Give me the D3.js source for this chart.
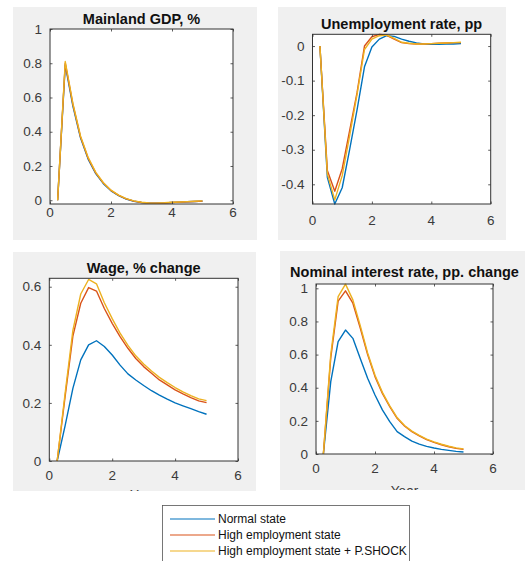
<!DOCTYPE html>
<html><head><meta charset="utf-8">
<script src="https://cdn.jsdelivr.net/npm/d3@7"></script>
<style>
body{margin:0;background:#fff;}
svg{display:block;}
text{font-family:"Liberation Sans",Arial,Helvetica,sans-serif;}
</style>
</head><body>
<svg id="chart" width="525" height="561"></svg>
<script>
// ---------- data ----------
const years = [0.25,0.5,0.75,1.0,1.25,1.5,1.75,2.0,2.25,2.5,2.75,3.0,3.25,3.5,3.75,4.0,4.25,4.5,4.75,5.0];

const seriesNames = ["Normal state","High employment state","High employment state + P.SHOCK"];
const seriesColors = ["#0072BD","#D95319","#EDB120"];

const gdpNormal = [0,0.79,0.55,0.365,0.24,0.155,0.097,0.055,0.027,0.007,-0.006,-0.013,-0.017,-0.018,-0.016,-0.013,-0.011,-0.009,-0.007,-0.005];
const gdpHigh   = [0,0.80,0.56,0.37,0.245,0.16,0.10,0.057,0.028,0.008,-0.005,-0.013,-0.017,-0.018,-0.016,-0.013,-0.011,-0.009,-0.007,-0.005];
const gdpShock  = [0,0.81,0.565,0.375,0.25,0.163,0.102,0.059,0.03,0.009,-0.004,-0.012,-0.016,-0.017,-0.015,-0.012,-0.010,-0.008,-0.006,-0.004];

const unempNormal = [0,-0.38,-0.457,-0.41,-0.30,-0.185,-0.06,-0.003,0.02,0.03,0.028,0.02,0.014,0.009,0.006,0.005,0.005,0.006,0.006,0.007];
const unempHigh   = [0,-0.36,-0.42,-0.355,-0.245,-0.135,0.0,0.027,0.034,0.031,0.02,0.01,0.007,0.006,0.006,0.007,0.008,0.009,0.01,0.01];
const unempShock  = [0,-0.37,-0.445,-0.375,-0.26,-0.14,-0.01,0.02,0.03,0.032,0.022,0.011,0.008,0.006,0.006,0.007,0.008,0.009,0.01,0.011];

const wageNormal = [0,0.12,0.25,0.348,0.40,0.414,0.394,0.365,0.33,0.30,0.279,0.26,0.242,0.227,0.213,0.20,0.19,0.18,0.17,0.161];
const wageHigh   = [0,0.22,0.43,0.543,0.597,0.585,0.525,0.474,0.428,0.388,0.353,0.325,0.302,0.279,0.262,0.245,0.231,0.218,0.207,0.201];
const wageShock  = [0,0.23,0.45,0.575,0.625,0.61,0.545,0.49,0.44,0.398,0.362,0.334,0.31,0.288,0.27,0.253,0.238,0.225,0.214,0.208];

const rateNormal = [0,0.437,0.678,0.748,0.698,0.577,0.457,0.356,0.266,0.195,0.135,0.105,0.078,0.06,0.046,0.036,0.028,0.022,0.016,0.012];
const rateHigh   = [0,0.58,0.923,0.985,0.91,0.76,0.60,0.467,0.366,0.286,0.215,0.169,0.135,0.109,0.087,0.07,0.056,0.044,0.034,0.028];
const rateShock  = [0,0.60,0.95,1.025,0.93,0.775,0.61,0.475,0.372,0.29,0.22,0.172,0.138,0.112,0.09,0.073,0.059,0.047,0.037,0.031];

const xTicks = [0,2,4,6];
const gdpTicks = [0,0.2,0.4,0.6,0.8,1];
const unempTicks = [-0.4,-0.3,-0.2,-0.1,0];
const wageTicks = [0,0.2,0.4,0.6];
const rateTicks = [0,0.2,0.4,0.6,0.8,1];

const titles = ["Mainland GDP, %","Unemployment rate, pp","Wage, % change","Nominal interest rate, pp. change"];
const xLabel = "Year";

// ---------- layout ----------
const panels = [
  {title:titles[0], series:[gdpNormal,gdpHigh,gdpShock], ticks:gdpTicks, dom:[-0.022,1],
   bg:[13,7,244,233], l:50, r:233, t:29, b:204, titleY:19, xTickY:212.5, xlab:null},
  {title:titles[1], series:[unempNormal,unempHigh,unempShock], ticks:unempTicks, dom:[-0.457,0.034],
   bg:[278,7,228,233], l:312.5, r:490.7, t:34.3, b:204, titleY:24, xTickY:220, xlab:null},
  {title:titles[2], series:[wageNormal,wageHigh,wageShock], ticks:wageTicks, dom:[0,0.629],
   bg:[13,252,243,239], l:49.3, r:238, t:278.3, b:461, titleY:268, xTickY:475.5, xlab:494},
  {title:titles[3], series:[rateNormal,rateHigh,rateShock], ticks:rateTicks, dom:[0,1.026],
   bg:[280,251,245,239], l:316, r:493, t:284, b:454, titleY:272, xTickY:468, xlab:490.5}
];

const svg = d3.select("#chart");
const defs = svg.append("defs");
const tickLen = 2.5;
const axisColor = "#333333";
const textColor = "#3a3a3a";

panels.forEach((p,i) => {
  const clipId = "clip"+i;
  defs.append("clipPath").attr("id",clipId).append("rect")
    .attr("x",p.bg[0]).attr("y",p.bg[1]).attr("width",p.bg[2]).attr("height",p.bg[3]);
  const g = svg.append("g").attr("clip-path",`url(#${clipId})`);
  g.append("rect").attr("x",p.bg[0]).attr("y",p.bg[1]).attr("width",p.bg[2]).attr("height",p.bg[3]).attr("fill","#f0f0f0");

  const x = d3.scaleLinear().domain([0,6]).range([p.l,p.r]);
  const y = d3.scaleLinear().domain(p.dom).range([p.b,p.t]);

  g.append("rect").attr("x",p.l).attr("y",p.t).attr("width",p.r-p.l).attr("height",p.b-p.t).attr("fill","#fff");

  const plotClip = "pclip"+i;
  defs.append("clipPath").attr("id",plotClip).append("rect")
    .attr("x",p.l).attr("y",p.t-1).attr("width",p.r-p.l).attr("height",p.b-p.t+2);

  const line = d3.line().x((d,j)=>x(years[j])).y(d=>y(d));
  const lg = g.append("g").attr("clip-path",`url(#${plotClip})`);
  p.series.forEach((s,k)=>{
    lg.append("path").datum(s).attr("d",line).attr("fill","none")
      .attr("stroke",seriesColors[k]).attr("stroke-width",1.4).attr("stroke-linejoin","round");
  });

  const axB = d3.axisBottom(x).tickValues(xTicks).tickSize(-tickLen).tickFormat("");
  const axT = d3.axisTop(x).tickValues(xTicks).tickSize(-tickLen).tickFormat("");
  const axL = d3.axisLeft(y).tickValues(p.ticks).tickSize(-tickLen).tickFormat("");
  const axR = d3.axisRight(y).tickValues(p.ticks).tickSize(-tickLen).tickFormat("");
  [[axB,`translate(0,${p.b})`],[axT,`translate(0,${p.t})`],[axL,`translate(${p.l},0)`],[axR,`translate(${p.r},0)`]].forEach(([ax,tr])=>{
    const a = g.append("g").attr("transform",tr).call(ax);
    a.select(".domain").remove();
    a.selectAll("line").attr("stroke",axisColor).attr("stroke-width",0.8);
  });
  g.append("rect").attr("x",p.l).attr("y",p.t).attr("width",p.r-p.l).attr("height",p.b-p.t)
    .attr("fill","none").attr("stroke",axisColor).attr("stroke-width",1);

  xTicks.forEach(v=>{
    g.append("text").attr("x",x(v)).attr("y",p.xTickY).attr("dy","0.35em").attr("text-anchor","middle")
      .attr("font-size",13.5).attr("fill",textColor).text(String(v));
  });
  p.ticks.forEach(v=>{
    g.append("text").attr("x",p.l-8).attr("y",y(v)).attr("dy","0.35em").attr("text-anchor","end")
      .attr("font-size",13.5).attr("fill",textColor).text(String(+v.toFixed(2)));
  });
  g.append("text").attr("x",(p.l+p.r)/2).attr("y",p.titleY).attr("dy","0.35em").attr("text-anchor","middle")
    .attr("font-size",14.5).attr("font-weight","bold").attr("fill","#111").text(p.title);
  if (p.xlab) {
    g.append("text").attr("x",(p.l+p.r)/2).attr("y",p.xlab).attr("dy","0.35em").attr("text-anchor","middle")
      .attr("font-size",13.5).attr("fill",textColor).text(xLabel);
  }
});

// legend
const leg = svg.append("g");
leg.append("rect").attr("x",162.5).attr("y",505.5).attr("width",247).attr("height",70)
  .attr("fill","#fff").attr("stroke","#555").attr("stroke-width",0.8);
const legY = d3.scalePoint().domain(seriesNames).range([519,551]);
seriesNames.forEach((n,k)=>{
  leg.append("line").attr("x1",170).attr("x2",215).attr("y1",legY(n)).attr("y2",legY(n))
    .attr("stroke",seriesColors[k]).attr("stroke-width",1.2);
  leg.append("text").attr("x",218).attr("y",legY(n)).attr("dy","0.35em")
    .attr("font-size",12).attr("fill","#111").text(n);
});
</script>
</body></html>
